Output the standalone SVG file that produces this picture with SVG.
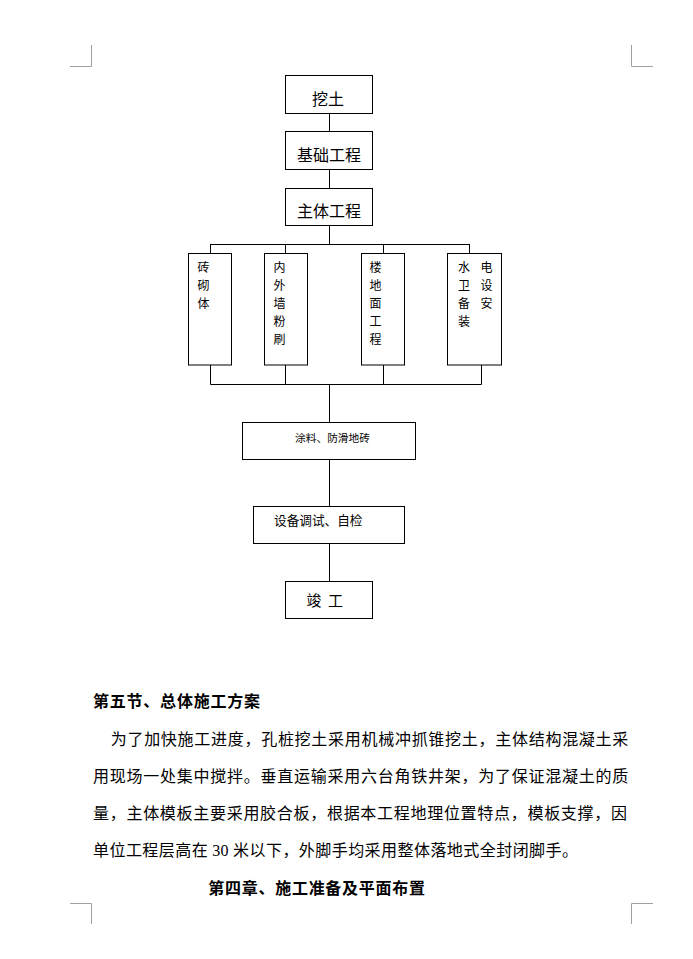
<svg xmlns="http://www.w3.org/2000/svg" width="693" height="959" viewBox="0 0 693 959">
<style>
.box{fill:#fff;stroke:#000;stroke-width:1}
.ln{stroke:#000;stroke-width:1;fill:none}
.crn{stroke:#a0a0a0;stroke-width:1;fill:none}
.t{font-family:"Noto Sans CJK SC","Noto Sans",sans-serif;fill:#000}
.c{text-anchor:middle}
.h{font-family:"Noto Sans CJK SC","Noto Sans",sans-serif;font-weight:700;font-size:16px;fill:#000}
.p{font-family:"Noto Sans CJK SC","Noto Sans",sans-serif;font-size:16px;fill:#000}
</style>
<rect width="693" height="959" fill="#fff"/>
<g id="corners">
<path class="crn" d="M91.5 45V66.5H70M631.5 45V66.5H653M91.5 924V903.5H70M631.5 924V903.5H653"/>
</g>
<g id="connectors">
<path class="ln" d="M329.5 113V131M329.5 169V188M329.5 225V244.5M210.5 244.5H469.5M210.5 244V253M285.5 244V253M383.5 244V253M469.5 244V253"/>
<path class="ln" d="M210.5 365V384.5M285.5 365V384.5M383.5 365V384.5M481.5 365V384.5M210.5 384.5H481.5M329.5 384.5V422M329.5 459V506M329.5 543V581"/>
</g>
<g id="n1"><rect class="box" x="285.5" y="75.5" width="87" height="38"/><text class="t c" x="328" y="104.5" font-size="16">挖土</text></g>
<g id="n2"><rect class="box" x="285.5" y="131.5" width="87" height="38"/><text class="t c" x="329" y="160.5" font-size="16">基础工程</text></g>
<g id="n3"><rect class="box" x="285.5" y="188.5" width="87" height="37"/><text class="t c" x="329" y="216.5" font-size="16">主体工程</text></g>
<g id="n4"><rect class="box" x="188.5" y="253.5" width="43" height="111.5"/>
<text class="t c" font-size="12"><tspan x="203.5" y="272">砖</tspan><tspan x="203.5" y="290">砌</tspan><tspan x="203.5" y="308">体</tspan></text></g>
<g id="n5"><rect class="box" x="264.5" y="253.5" width="43" height="111.5"/>
<text class="t c" font-size="12"><tspan x="279.5" y="272">内</tspan><tspan x="279.5" y="290">外</tspan><tspan x="279.5" y="308">墙</tspan><tspan x="279.5" y="326">粉</tspan><tspan x="279.5" y="344">刷</tspan></text></g>
<g id="n6"><rect class="box" x="361.5" y="253.5" width="43" height="111.5"/>
<text class="t c" font-size="12"><tspan x="375.5" y="272">楼</tspan><tspan x="375.5" y="290">地</tspan><tspan x="375.5" y="308">面</tspan><tspan x="375.5" y="326">工</tspan><tspan x="375.5" y="344">程</tspan></text></g>
<g id="n7"><rect class="box" x="447.5" y="253.5" width="54" height="111.5"/>
<text class="t c" font-size="12"><tspan x="464" y="272">水</tspan><tspan x="464" y="290">卫</tspan><tspan x="464" y="308">备</tspan><tspan x="464" y="326">装</tspan></text>
<text class="t c" font-size="12"><tspan x="486.5" y="272">电</tspan><tspan x="486.5" y="290">设</tspan><tspan x="486.5" y="308">安</tspan></text></g>
<g id="n8"><rect class="box" x="242.5" y="422.5" width="173" height="37"/><text class="t" x="295" y="441.5" font-size="10.7" textLength="75" lengthAdjust="spacingAndGlyphs">涂料、防滑地砖</text></g>
<g id="n9"><rect class="box" x="253.5" y="506.5" width="151" height="37"/><text class="t" x="274" y="525" font-size="12.6" textLength="88.5" lengthAdjust="spacingAndGlyphs">设备调试、自检</text></g>
<g id="n10"><rect class="box" x="285.5" y="581.5" width="87" height="37"/><text class="t" y="606" font-size="15" xml:space="preserve"><tspan x="306.5">竣</tspan> <tspan x="328">工</tspan></text></g>
<g id="text">
<text class="h" x="93" y="707" textLength="167" lengthAdjust="spacing">第五节、总体施工方案</text>
<text class="p" x="110.7" y="745" textLength="517.6" lengthAdjust="spacing">为了加快施工进度，孔桩挖土采用机械冲抓锥挖土，主体结构混凝土采</text>
<text class="p" x="93" y="782" textLength="535.3" lengthAdjust="spacing">用现场一处集中搅拌。垂直运输采用六台角铁井架，为了保证混凝土的质</text>
<text class="p" x="93" y="819" textLength="534" lengthAdjust="spacing">量，主体模板主要采用胶合板，根据本工程地理位置特点，模板支撑，因</text>
<text class="p" x="93" y="856" textLength="485" lengthAdjust="spacing" xml:space="preserve">单位工程层高在 <tspan font-family="Liberation Serif,serif">30</tspan> 米以下，外脚手均采用整体落地式全封闭脚手。</text>
<text class="h" x="208.3" y="894" textLength="216.7" lengthAdjust="spacing">第四章、施工准备及平面布置</text>
</g>
</svg>
